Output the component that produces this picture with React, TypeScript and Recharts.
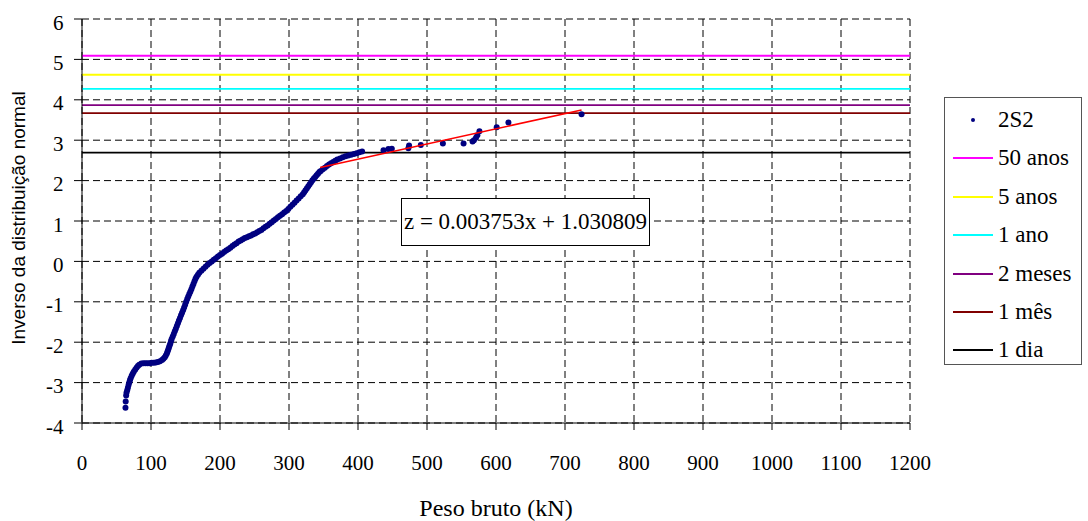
import React from 'react';
import { ComposedChart, Scatter, XAxis, YAxis, CartesianGrid, ReferenceLine, Label } from 'recharts';

const xTicks = [0, 100, 200, 300, 400, 500, 600, 700, 800, 900, 1000, 1100, 1200];
const yTicks = [-4, -3, -2, -1, 0, 1, 2, 3, 4, 5, 6];

// 2S2 observations: [peso bruto (kN), inverso da distribuição normal]
const obsX = [
  63, 63.3, 64, 64.5, 65.5, 66.5, 67.5, 68.5, 69.5, 70.5, 72, 73.5, 75, 77, 79, 81, 83, 86, 89, 92, 95, 98, 101, 104, 107, 110, 113,
  116, 118, 120, 121.5, 123, 124, 125, 126, 127, 128, 129, 130, 131.5, 133, 134.5, 136, 137.5, 139, 140.5, 142, 143.5, 145, 146.5, 148, 149.5,
  151, 152.5, 154, 155.5, 157, 158.5, 160, 161.5, 163, 164.5, 166, 168, 170, 173, 176, 179, 182, 185, 188, 191, 194, 197, 200, 203, 206,
  209, 212, 215, 218, 221, 224, 227, 230, 233, 236, 239, 242, 245, 248, 251, 254, 257, 260, 263, 266, 269, 272, 275, 278, 281, 284, 287,
  290, 293, 296, 299, 302, 305, 308, 311, 314, 317, 320, 322, 324, 326, 328, 330, 332, 334, 336, 338, 340, 342, 344, 346, 349, 352, 355,
  358, 361, 364, 367, 370, 374, 378, 382, 386, 390, 394, 398, 402, 406,
  437, 444, 449, 473, 474, 491, 523, 553, 566, 568, 571, 573, 576, 601, 618, 724,
];
const obsZ = [
  -3.62, -3.47, -3.32, -3.25, -3.19, -3.13, -3.06, -3.0, -2.94, -2.89, -2.83, -2.78, -2.73, -2.68, -2.63, -2.59, -2.56, -2.53, -2.52, -2.52, -2.52, -2.52, -2.51, -2.51, -2.5, -2.49, -2.47,
  -2.44, -2.41, -2.37, -2.33, -2.28, -2.23, -2.18, -2.13, -2.08, -2.03, -1.97, -1.92, -1.86, -1.8, -1.73, -1.67, -1.6, -1.53, -1.46, -1.4, -1.33, -1.27, -1.21, -1.14, -1.07,
  -1.0, -0.93, -0.87, -0.81, -0.75, -0.69, -0.62, -0.56, -0.49, -0.43, -0.38, -0.33, -0.28, -0.23, -0.18, -0.13, -0.08, -0.04, 0.0, 0.04, 0.08, 0.12, 0.16, 0.19, 0.23,
  0.27, 0.3, 0.34, 0.38, 0.42, 0.45, 0.49, 0.52, 0.55, 0.58, 0.6, 0.62, 0.64, 0.67, 0.69, 0.72, 0.75, 0.78, 0.82, 0.86, 0.89, 0.93, 0.97, 1.01, 1.05, 1.09, 1.13,
  1.17, 1.21, 1.25, 1.3, 1.35, 1.4, 1.45, 1.51, 1.56, 1.61, 1.66, 1.71, 1.76, 1.81, 1.86, 1.91, 1.96, 2.01, 2.05, 2.09, 2.13, 2.17, 2.21, 2.24, 2.28, 2.32, 2.36,
  2.4, 2.43, 2.46, 2.49, 2.52, 2.55, 2.58, 2.6, 2.62, 2.64, 2.66, 2.68, 2.7, 2.72,
  2.75, 2.78, 2.79, 2.8, 2.87, 2.88, 2.92, 2.92, 2.97, 3.0, 3.06, 3.12, 3.22, 3.32, 3.44, 3.64,
];

// Reference levels
const levelNames = ['50 anos', '5 anos', '1 ano', '2 meses', '1 mês', '1 dia'];
const levelValues = [5.09, 4.62, 4.27, 3.87, 3.67, 2.69];
const levelColors = ['#FF00FF', '#FFFF00', '#00FFFF', '#800080', '#800000', '#000000'];

// Trend line endpoints
const trendX = [345, 724];
const trendZ = [2.325, 3.748];
const trendLabel = 'z = 0.003753x + 1.030809';

const obsData = obsX.map((x, i) => ({ x, y: obsZ[i] }));
const trendData = trendX.map((x, i) => ({ x, y: trendZ[i] }));

const serif = "'Liberation Serif', 'Times New Roman', serif";
const sans = "'Liberation Sans', Arial, sans-serif";

const Dot = (props: any) => {
  const { cx, cy } = props;
  if (cx == null || cy == null) return null;
  return <circle cx={cx} cy={cy} r={3} fill="#000080" />;
};

const NoShape = () => null;

const XTick = (props: any) => {
  const { x, payload } = props;
  return (
    <text x={x} y={470} textAnchor="middle" style={{ fontFamily: serif, fontSize: 21, fill: '#000' }}>
      {payload.value}
    </text>
  );
};

const YTick = (props: any) => {
  const { y, payload } = props;
  return (
    <text x={63.5} y={y + 10.5} textAnchor="end" style={{ fontFamily: serif, fontSize: 21, fill: '#000' }}>
      {payload.value}
    </text>
  );
};

const XTitle = (props: any) => {
  const vb = props.viewBox || {};
  const cx = (vb.x ?? 82) + (vb.width ?? 828) / 2;
  return (
    <text x={cx} y={516} textAnchor="middle" style={{ fontFamily: serif, fontSize: 24, fill: '#000' }}>
      Peso bruto (kN)
    </text>
  );
};

const YTitle = () => (
  <text
    x={25}
    y={218}
    transform="rotate(-90, 25, 218)"
    textAnchor="middle"
    style={{ fontFamily: sans, fontSize: 19, fill: '#000' }}
  >
    Inverso da distribuição normal
  </text>
);

const LegendBox = () => (
  <div
    style={{
      position: 'absolute',
      left: 944,
      top: 97,
      width: 136,
      height: 266,
      border: '1px solid #555',
      background: '#fff',
      fontFamily: serif,
      fontSize: 23,
      color: '#000',
    }}
  >
    {['2S2', ...levelNames].map((name, i) => (
      <div
        key={name}
        style={{ position: 'absolute', left: 0, top: 22 + i * 38.4 - 14, height: 28, display: 'flex', alignItems: 'center' }}
      >
        <svg width={53} height={28} style={{ display: 'block' }}>
          {i === 0 ? (
            <circle cx={28} cy={14} r={2} fill="#000080" />
          ) : (
            <line x1={8} x2={48} y1={14} y2={14} stroke={levelColors[i - 1]} strokeWidth={1.8} />
          )}
        </svg>
        <span style={{ whiteSpace: 'nowrap', lineHeight: '28px' }}>{name}</span>
      </div>
    ))}
  </div>
);

export default function App() {
  return (
    <div style={{ position: 'absolute', left: 0, top: 0, width: 1088, height: 521, background: '#fff' }}>
      <ComposedChart width={1088} height={521} margin={{ top: 19, right: 178, bottom: 0, left: 0 }}>
        <CartesianGrid stroke="#000" strokeDasharray="7 4" strokeWidth={1} />
        <XAxis
          type="number"
          dataKey="x"
          domain={[0, 1200]}
          ticks={xTicks}
          interval={0}
          height={98}
          allowDataOverflow
          stroke="#000"
          tickSize={7}
          tick={<XTick />}
        >
          <Label content={<XTitle />} />
        </XAxis>
        <YAxis
          type="number"
          dataKey="y"
          domain={[-4, 6]}
          ticks={yTicks}
          interval={0}
          width={82}
          allowDataOverflow
          stroke="#000"
          tickSize={8}
          tick={<YTick />}
        >
          <Label content={<YTitle />} />
        </YAxis>
        {levelValues.map((v, i) => (
          <ReferenceLine key={levelNames[i]} y={v} stroke={levelColors[i]} strokeWidth={1.8} />
        ))}
        <Scatter name="2S2" data={obsData} shape={<Dot />} isAnimationActive={false} />
        <Scatter
          name="trend"
          data={trendData}
          line={{ stroke: '#FF0000', strokeWidth: 1.6 }}
          shape={NoShape}
          isAnimationActive={false}
          legendType="none"
        />
      </ComposedChart>
      <LegendBox />
      <div
        style={{
          position: 'absolute',
          left: 401,
          top: 198,
          width: 247,
          height: 46,
          border: '1px solid #000',
          background: '#fff',
          fontFamily: serif,
          fontSize: 23,
          color: '#000',
          display: 'flex',
          alignItems: 'center',
          justifyContent: 'center',
          whiteSpace: 'nowrap',
        }}
      >
        {trendLabel}
      </div>
    </div>
  );
}
